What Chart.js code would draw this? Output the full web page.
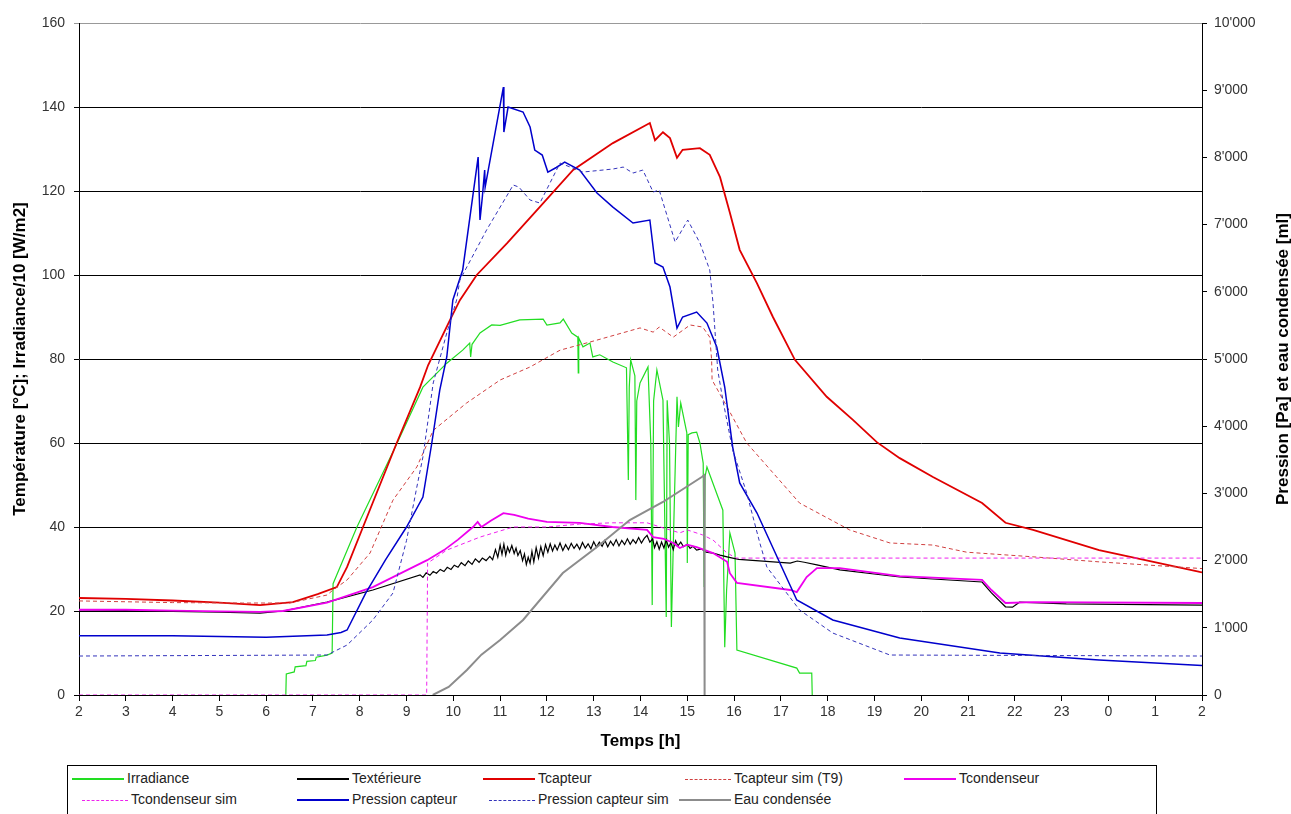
<!DOCTYPE html>
<html lang="fr">
<head>
<meta charset="UTF-8">
<title>Capteur - mesures et simulation</title>
<script src="https://cdn.jsdelivr.net/npm/chart.js@4.4.1/dist/chart.umd.min.js"></script>
<style>
    body {
        margin: 0;
        background: #fff;
        font-family: "Liberation Sans", Arial, sans-serif;
    }
    .chart-box {
        position: absolute;
        left: 0;
        top: 0;
        width: 1291px;
        height: 760px;
    }
    .y2-title {
        position: absolute;
        left: 1082px;
        top: 350px;
        width: 400px;
        height: 18px;
        line-height: 18px;
        text-align: center;
        font: bold 17px "Liberation Sans", Arial, sans-serif;
        color: #000;
        transform: rotate(-90deg);
    }
    .legend {
        position: absolute;
        left: 67px;
        top: 765px;
        width: 1090px;
        height: 60px;
        border: 1px solid #000;
        box-sizing: border-box;
    }
    .legend .item {
        position: absolute;
        height: 18px;
        line-height: 18px;
        font-size: 14px;
        color: #222;
        white-space: nowrap;
    }
    .legend .swatch {
        display: inline-block;
        width: 52px;
        vertical-align: middle;
        margin-right: 3px;
    }
</style>
</head>
<body>

<div class="chart-box"><canvas id="chart"></canvas></div>
<div class="y2-title">Pression [Pa] et eau condensée [ml]</div>
<div class="legend" id="legend"></div>

<script>
// x values are hours since midnight of day 1 (24 = 0h, 26 = 2h next day)

var irradianceH = [6.42, 6.43, 6.6, 6.62, 6.85, 6.87, 7.05, 7.07, 7.3, 7.41, 7.43, 7.94, 8.8, 9.35, 9.86, 10.2, 10.35, 10.37, 10.4, 10.57, 10.82, 11.0, 11.42, 11.92, 12.0, 12.28, 12.35, 12.53, 12.66, 12.67, 12.68, 12.77, 12.92, 12.98, 13.13, 13.41, 13.7, 13.74, 13.76, 13.79, 13.88, 13.9, 13.92, 13.99, 14.16, 14.22, 14.25, 14.28, 14.35, 14.48, 14.55, 14.57, 14.62, 14.66, 14.71, 14.78, 14.81, 14.86, 14.99, 15.0, 15.02, 15.1, 15.2, 15.27, 15.34, 15.36, 15.38, 15.42, 15.76, 15.8, 15.84, 15.87, 15.91, 16.02, 16.06, 17.34, 17.4, 17.55, 17.66, 17.67];
var irradianceV = [0, 5, 5.5, 6.7, 7, 8, 8.2, 9, 9.5, 10, 26.5, 40, 60, 73.3, 79, 82.1, 83.8, 80.5, 83.5, 86.2, 88.1, 88, 89.3, 89.5, 88.1, 88.6, 89.5, 86.2, 85.2, 76.7, 85, 82.9, 83.8, 80.5, 81, 79.3, 77.9, 51.2, 73.3, 79.8, 76, 46.4, 70, 74.3, 78.1, 60, 21.4, 70, 77.4, 70.2, 18.6, 70.2, 60, 16.2, 40, 71, 63.8, 69.5, 62.4, 31.4, 62, 62.4, 62.6, 60, 55.2, 25.7, 52, 54.3, 44, 11.4, 25, 30.5, 38.6, 33.8, 10.7, 6.4, 5.2, 5.2, 5.2, 0];

var texterieureH = [2, 3, 4, 5, 5.87, 6.36, 7.3, 8.28, 9.29, 9.35, 9.42, 9.5, 9.57, 9.64, 9.72, 9.8, 9.87, 9.95, 10.02, 10.1, 10.17, 10.25, 10.32, 10.4, 10.47, 10.55, 10.62, 10.7, 10.78, 10.84, 10.9, 10.95, 11.0, 11.04, 11.08, 11.12, 11.16, 11.2, 11.25, 11.3, 11.34, 11.38, 11.43, 11.48, 11.52, 11.56, 11.6, 11.64, 11.68, 11.72, 11.77, 11.82, 11.87, 11.92, 11.97, 12.02, 12.07, 12.12, 12.17, 12.22, 12.28, 12.34, 12.4, 12.46, 12.52, 12.58, 12.64, 12.7, 12.76, 12.82, 12.88, 12.94, 13.0, 13.06, 13.12, 13.18, 13.24, 13.3, 13.36, 13.42, 13.48, 13.54, 13.6, 13.66, 13.72, 13.78, 13.84, 13.9, 13.96, 14.02, 14.08, 14.14, 14.2, 14.26, 14.3, 14.35, 14.4, 14.45, 14.5, 14.55, 14.6, 14.65, 14.7, 14.75, 14.8, 14.86, 14.92, 15.0, 15.06, 15.12, 15.2, 15.3, 15.4, 15.55, 15.7, 15.85, 15.97, 16.1, 17.2, 17.35, 17.5, 17.77, 18.26, 19.54, 21.3, 21.5, 21.8, 21.95, 22.1, 23.1, 26];
var texterieureV = [20.0, 20.1, 19.9, 19.7, 19.5, 20.0, 22.1, 25.0, 28.6, 28.0, 29.1, 28.5, 29.4, 29.0, 29.9, 29.4, 30.4, 29.9, 30.9, 30.4, 31.5, 30.8, 31.9, 31.1, 32.4, 31.6, 32.6, 32.0, 33.0, 32.2, 34.6, 32.8, 35.7, 33.5, 35.9, 33.3, 35.2, 34.0, 35.6, 33.7, 35.0, 33.2, 34.4, 32.0, 33.6, 31.1, 32.8, 31.4, 34.2, 31.7, 35.1, 32.6, 35.3, 33.2, 35.8, 34.0, 36.0, 34.3, 35.7, 34.5, 36.2, 34.4, 35.8, 34.6, 36.1, 34.9, 35.9, 34.7, 36.3, 35.0, 36.0, 34.8, 36.5, 35.2, 36.4, 35.4, 36.8, 35.3, 36.6, 35.6, 37.0, 35.5, 36.8, 35.8, 37.2, 35.9, 37.0, 36.1, 37.5, 36.2, 37.3, 38.0, 36.4, 37.2, 35.1, 36.5, 34.7, 36.4, 35.0, 36.9, 35.2, 36.3, 34.6, 36.7, 35.5, 36.4, 35.3, 35.9, 34.9, 35.4, 34.5, 34.8, 34.0, 33.8, 33.3, 32.9, 32.6, 32.3, 31.4, 31.9, 31.6, 31.0, 29.8, 28.1, 26.9, 24.3, 21.0, 20.9, 22.1, 21.7, 21.4];

var tcapteurH = [2, 3, 4, 5, 5.87, 6.57, 7.1, 7.51, 7.73, 8.07, 8.79, 9.29, 9.46, 9.93, 10.14, 10.5, 11.15, 11.85, 12.56, 13.41, 14.2, 14.31, 14.48, 14.63, 14.78, 14.9, 15.27, 15.48, 15.7, 15.91, 16.12, 16.49, 16.83, 17.3, 17.98, 18.54, 19.05, 19.54, 20.25, 21.3, 21.8, 22.39, 23.8, 25.95, 26];
var tcapteurV = [23.1, 22.9, 22.5, 22.0, 21.4, 22.1, 24.0, 25.7, 30.5, 40.0, 60.0, 73.3, 78.5, 89.3, 94.0, 100.0, 107.6, 116.2, 125.0, 131.4, 136.2, 132.1, 134.0, 132.6, 127.9, 129.8, 130.2, 128.6, 123.3, 114.8, 106.0, 98.0, 90.0, 79.8, 71.0, 65.5, 60.2, 56.4, 51.9, 45.7, 41.0, 39.3, 34.5, 29.3, 29.2];

var tcapteurSimH = [2, 4, 5.5, 6.5, 7.3, 7.43, 7.73, 8.22, 8.71, 9.22, 9.57, 10.28, 11.0, 11.64, 12.28, 13.07, 13.99, 14.27, 14.4, 14.7, 15.06, 15.33, 15.48, 15.52, 15.53, 15.85, 16.27, 17.4, 18.47, 19.33, 20.25, 20.97, 22.39, 23.8, 26];
var tcapteurSimV = [22.4, 22.0, 21.9, 21.9, 23.8, 25.0, 27.4, 33.8, 46.4, 54.3, 63.0, 69.5, 75.0, 78.1, 82.1, 84.5, 87.4, 86.4, 87.6, 85.2, 88.1, 87.6, 85.2, 79.8, 75.0, 68.6, 60.0, 45.7, 39.3, 36.2, 35.7, 34.0, 32.9, 31.7, 30.1];

var tcondenseurH = [2, 3, 4, 5, 5.87, 6.36, 7.3, 8.28, 9.44, 9.8, 10.1, 10.42, 10.52, 10.6, 10.8, 11.07, 11.3, 11.6, 12.0, 12.7, 13.4, 14.14, 14.27, 14.5, 14.7, 14.84, 15.0, 15.2, 15.55, 15.85, 15.91, 16.06, 17.2, 17.34, 17.55, 17.77, 18.26, 19.54, 21.3, 21.5, 21.8, 22.39, 26];
var tcondenseurV = [20.3, 20.3, 20.1, 19.9, 19.8, 20.0, 22.0, 25.7, 32.1, 34.5, 37.0, 40.0, 41.2, 40.0, 41.5, 43.3, 42.9, 42.0, 41.2, 41.0, 40.0, 39.3, 37.6, 37.2, 36.2, 35.0, 35.8, 35.2, 33.8, 31.7, 29.0, 26.7, 25.0, 24.5, 28.1, 30.2, 30.2, 28.3, 27.4, 25.0, 21.9, 22.1, 21.9];

var tcondenseurSimH = [2, 9.43, 9.45, 9.86, 10.57, 11.28, 12.0, 12.7, 13.4, 14.14, 14.48, 14.84, 15.0, 15.33, 15.55, 15.85, 16.05, 26];
var tcondenseurSimV = [0, 0, 31.4, 34.5, 37.6, 40.0, 40.0, 40.7, 41.0, 41.0, 39.8, 38.6, 39.3, 38.1, 36.9, 33.8, 32.6, 32.6];

var pressionH = [2, 4, 5, 6, 7.3, 7.6, 7.73, 8.13, 8.55, 9.0, 9.35, 9.54, 9.71, 9.86, 9.99, 10.2, 10.53, 10.57, 10.62, 10.67, 10.68, 11.07, 11.08, 11.17, 11.49, 11.64, 11.74, 11.9, 12.02, 12.2, 12.38, 12.7, 13.07, 13.41, 13.84, 14.2, 14.31, 14.48, 14.63, 14.78, 14.9, 15.2, 15.42, 15.63, 15.8, 15.97, 16.12, 16.49, 16.92, 17.34, 18.11, 19.54, 21.68, 23.8, 26];
var pressionV = [880, 880, 870, 860, 893, 930, 967, 1520, 2010, 2500, 2946, 3750, 4538, 5030, 5878, 6324, 8005, 7068, 7410, 7812, 7559, 9047, 8377, 8749, 8675, 8452, 8110, 8035, 7782, 7850, 7931, 7812, 7470, 7261, 7023, 7068, 6428, 6369, 6071, 5461, 5625, 5699, 5535, 5178, 4583, 3690, 3155, 2708, 2053, 1414, 1116, 848, 625, 521, 440];

var pressionSimH = [2, 7.3, 7.73, 8.28, 8.71, 9.0, 9.22, 9.35, 9.57, 9.86, 10.07, 10.14, 10.71, 11.28, 11.4, 11.64, 11.85, 12.28, 12.77, 13.41, 13.63, 13.84, 14.05, 14.27, 14.4, 14.74, 15.01, 15.27, 15.48, 15.55, 15.65, 15.76, 15.97, 16.27, 16.55, 16.7, 17.4, 18.11, 19.33, 26];
var pressionSimV = [580, 595, 744, 1116, 1518, 2300, 3095, 3541, 4643, 5387, 5878, 6175, 6919, 7589, 7559, 7366, 7321, 7916, 7782, 7827, 7856, 7767, 7812, 7485, 7514, 6741, 7068, 6726, 6324, 5833, 4836, 4390, 3646, 3006, 2262, 1905, 1265, 922, 595, 580];

var eauH = [9.56, 9.9, 10.29, 10.6, 11.0, 11.49, 12.34, 13.07, 13.77, 14.48, 15.31, 15.36, 15.37];
var eauV = [0, 120, 372, 600, 818, 1116, 1815, 2202, 2604, 2872, 3244, 3270, 0];

var series = [
    {label: 'Irradiance', h: irradianceH, v: irradianceV, axis: 'y', color: '#22dd22', width: 1.2, dash: []},
    {label: 'Textérieure', h: texterieureH, v: texterieureV, axis: 'y', color: '#000000', width: 1.2, dash: []},
    {label: 'Tcapteur', h: tcapteurH, v: tcapteurV, axis: 'y', color: '#e00000', width: 1.8, dash: []},
    {label: 'Tcapteur sim (T9)', h: tcapteurSimH, v: tcapteurSimV, axis: 'y', color: '#d04040', width: 1, dash: [4, 3]},
    {label: 'Tcondenseur', h: tcondenseurH, v: tcondenseurV, axis: 'y', color: '#ee00ee', width: 1.8, dash: []},
    {label: 'Tcondenseur sim', h: tcondenseurSimH, v: tcondenseurSimV, axis: 'y', color: '#ee22ee', width: 1, dash: [4, 3]},
    {label: 'Pression capteur', h: pressionH, v: pressionV, axis: 'y2', color: '#0000cc', width: 1.5, dash: []},
    {label: 'Pression capteur sim', h: pressionSimH, v: pressionSimV, axis: 'y2', color: '#3333bb', width: 1, dash: [4, 3]},
    {label: 'Eau condensée', h: eauH, v: eauV, axis: 'y2', color: '#8c8c8c', width: 2, dash: []}
];

// legend item positions, row by row, as in the original sheet
var legendPos = [[4, 3], [229, 3], [415, 3], [611, 3], [836, 3],
                 [8, 24], [229, 24], [415, 24], [611, 24]];

function apostrophe(v) {
    if (v < 1000) return String(v);
    return Math.floor(v / 1000) + "'" + String(v % 1000).padStart(3, '0');
}

var tickFont = {family: '"Liberation Sans", Arial, sans-serif', size: 14};
var titleFont = {family: '"Liberation Sans", Arial, sans-serif', size: 17, weight: 'bold'};

var ctx = document.getElementById('chart').getContext('2d');

var chart = new Chart(ctx, {
    type: 'line',
    data: {
        datasets: series.map(function (s, i) {
            return {
                label: s.label,
                data: s.h.map(function (x, k) { return {x: x, y: s.v[k]}; }),
                yAxisID: s.axis,
                borderColor: s.color,
                backgroundColor: s.color,
                borderWidth: s.width,
                borderDash: s.dash,
                pointRadius: 0,
                tension: 0,
                fill: false,
                order: 10 - i
            };
        })
    },
    options: {
        responsive: true,
        maintainAspectRatio: false,
        animation: false,
        layout: {padding: {top: 23, left: 0, right: 0, bottom: 0}},
        plugins: {
            legend: {display: false},
            tooltip: {enabled: false}
        },
        scales: {
            x: {
                type: 'linear',
                min: 2,
                max: 26,
                afterFit: function (scale) { scale.height = 65; },
                ticks: {
                    stepSize: 1,
                    autoSkip: false,
                    maxRotation: 0,
                    padding: 3,
                    color: '#333',
                    font: tickFont,
                    callback: function (v) { return v % 24; }
                },
                grid: {drawOnChartArea: false, color: '#000', tickLength: 6},
                border: {color: '#000', width: 1},
                title: {display: true, text: 'Temps [h]', color: '#000', font: titleFont, padding: {top: 0, bottom: 8}}
            },
            y: {
                position: 'left',
                min: 0,
                max: 160,
                afterFit: function (scale) { scale.width = 79; },
                ticks: {stepSize: 20, padding: 9, color: '#333', font: tickFont},
                grid: {
                    color: function (c) { return c.tick && c.tick.value === 160 ? '#999' : '#000'; },
                    lineWidth: 1,
                    tickLength: 5
                },
                border: {color: '#000', width: 1},
                title: {display: true, text: 'Température [°C]; Irradiance/10 [W/m2]', color: '#000', font: titleFont, padding: {top: 10, bottom: 0}}
            },
            y2: {
                position: 'right',
                min: 0,
                max: 10000,
                afterFit: function (scale) { scale.width = 89; },
                ticks: {stepSize: 1000, padding: 7, color: '#333', font: tickFont, callback: apostrophe},
                grid: {drawOnChartArea: false, color: '#000', tickLength: 5},
                border: {color: '#000', width: 1}
            }
        }
    }
});

// legend below the chart, built from the same series list
var legendBox = document.getElementById('legend');
series.forEach(function (s, i) {
    var item = document.createElement('div');
    item.className = 'item';
    item.style.left = legendPos[i][0] + 'px';
    item.style.top = legendPos[i][1] + 'px';
    var sw = document.createElement('span');
    sw.className = 'swatch';
    if (s.dash.length) {
        sw.style.borderTop = '1px dashed ' + s.color;
        sw.style.width = '46px';
        sw.style.marginLeft = '6px';
    } else {
        sw.style.borderTop = '2px solid ' + s.color;
    }
    item.appendChild(sw);
    item.appendChild(document.createTextNode(s.label));
    legendBox.appendChild(item);
});
</script>

</body>
</html>
